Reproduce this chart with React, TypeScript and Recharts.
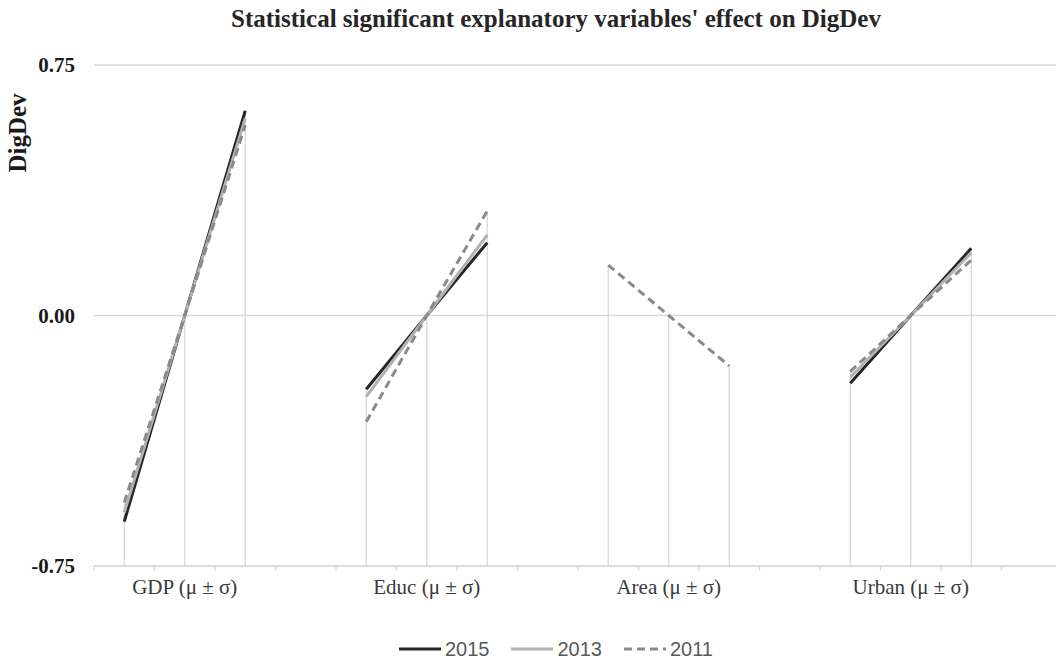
import React from "react";
import {
  ComposedChart,
  Line,
  XAxis,
  YAxis,
  CartesianGrid,
  ReferenceLine,
  Legend,
} from "recharts";

const variables = ["GDP", "Educ", "Area", "Urban"];
const levels = ["μ - σ", "μ", "μ + σ"];
const years = ["2015", "2013", "2011"];

// effect at μ-σ, μ, μ+σ for each variable; null = not significant that year
const eff2015 = [-0.617, 0, 0.613, -0.221, 0, 0.218, null, null, null, -0.203, 0, 0.201];
const eff2013 = [-0.59, 0, 0.59, -0.243, 0, 0.241, null, null, null, -0.185, 0, 0.188];
const eff2011 = [-0.56, 0, 0.57, -0.318, 0, 0.313, 0.151, 0, -0.151, -0.168, 0, 0.166];

const yTicks = [-0.75, 0, 0.75];

const SERIES = [
  { key: years[0], values: eff2015, color: "#262626", dash: undefined },
  { key: years[1], values: eff2013, color: "#b2b2b2", dash: undefined },
  { key: years[2], values: eff2011, color: "#8a8a8a", dash: "8 5" },
];

// one slot per level, one empty slot after every variable
const rows: any[] = [];
variables.forEach((v, g) => {
  levels.forEach((lv, l) => {
    const i = g * 3 + l;
    const row: any = { x: g * 4 + l + 0.5, variable: v, level: lv };
    SERIES.forEach((s) => (row[s.key] = s.values[i]));
    rows.push(row);
  });
  if (g < variables.length - 1) rows.push({ x: g * 4 + 3.5 });
});

const points = rows.filter((r) => r.variable);
const slotTicks = Array.from({ length: 17 }, (_, i) => i);
const labelTicks = variables.map((_, g) => g * 4 + 1.5);
const xTicks = [...slotTicks, ...labelTicks].sort((a, b) => a - b);

const GRID = "#d9d9d9";
const SERIF = "'Liberation Serif', 'Times New Roman', serif";

function XTick(props: any) {
  const { x, y, payload } = props;
  const v = payload.value;
  if (Number.isInteger(v)) {
    return <line x1={x} x2={x} y1={y} y2={y + 5} stroke={GRID} strokeWidth={1.3} />;
  }
  const name = variables[Math.floor(v / 4)];
  return (
    <text x={x} y={y + 28} textAnchor="middle" fontFamily={SERIF} fontSize={21} fill="#3a3a3a">
      {name} (μ ± σ)
    </text>
  );
}

function LegendBox() {
  return (
    <div
      style={{
        display: "flex",
        justifyContent: "center",
        alignItems: "center",
        gap: 22,
        height: 30,
        fontFamily: "'Liberation Sans', Arial, sans-serif",
        fontSize: 20,
        color: "#595959",
      }}
    >
      {SERIES.map((s) => (
        <span key={s.key} style={{ display: "flex", alignItems: "center", gap: 4 }}>
          <svg width={42} height={6}>
            <line x1={0} x2={42} y1={3} y2={3} stroke={s.color} strokeWidth={3} strokeDasharray={s.dash} />
          </svg>
          {s.key}
        </span>
      ))}
    </div>
  );
}

export default function App() {
  return (
    <div
      style={{
        position: "fixed",
        left: 0,
        top: 0,
        width: 1056,
        height: 660,
        overflow: "hidden",
        background: "#fff",
      }}
    >
      <div
        style={{
          position: "absolute",
          left: 556,
          top: 5,
          transform: "translateX(-50%)",
          whiteSpace: "nowrap",
          fontFamily: SERIF,
          fontWeight: "bold",
          fontSize: 25,
          color: "#262626",
        }}
      >
        Statistical significant explanatory variables' effect on DigDev
      </div>
      <ComposedChart
        width={1062}
        height={660}
        data={rows}
        margin={{ top: 65, right: 0, bottom: 24, left: 0 }}
      >
        <CartesianGrid vertical={false} stroke={GRID} strokeWidth={1.3} />
        <XAxis
          dataKey="x"
          type="number"
          domain={[0, 16]}
          ticks={xTicks}
          interval={0}
          tick={<XTick />}
          tickLine={false}
          tickSize={0}
          tickMargin={0}
          axisLine={{ stroke: GRID, strokeWidth: 1.3 }}
          height={40}
        />
        <YAxis
          type="number"
          domain={[-0.75, 0.75]}
          ticks={yTicks}
          tickFormatter={(v: number) => v.toFixed(2)}
          axisLine={false}
          tickLine={false}
          tickMargin={13}
          width={94}
          tick={{ fontFamily: SERIF, fontWeight: "bold", fontSize: 21, fill: "#1a1a1a" }}
          label={{
            content: () => (
              <text
                x={26}
                y={133}
                transform="rotate(-90 26 133)"
                textAnchor="middle"
                fontFamily={SERIF}
                fontWeight="bold"
                fontSize={25}
                fill="#1a1a1a"
              >
                DigDev
              </text>
            ),
          }}
        />
        {points.map((r) => {
          const vals = SERIES.map((s) => r[s.key]).filter((v) => v != null);
          return (
            <ReferenceLine
              key={r.x}
              segment={[
                { x: r.x, y: -0.75 },
                { x: r.x, y: Math.max(...vals) },
              ]}
              stroke={GRID}
              strokeWidth={1.3}
            />
          );
        })}
        {SERIES.map((s) => (
          <Line
            key={s.key}
            type="linear"
            dataKey={s.key}
            name={s.key}
            stroke={s.color}
            strokeWidth={3}
            strokeDasharray={s.dash}
            dot={false}
            activeDot={false}
            connectNulls={false}
            isAnimationActive={false}
          />
        ))}
        <Legend
          verticalAlign="bottom"
          content={<LegendBox />}
          wrapperStyle={{ top: 634, bottom: "auto", left: 0, width: 1112 }}
        />
      </ComposedChart>
    </div>
  );
}
